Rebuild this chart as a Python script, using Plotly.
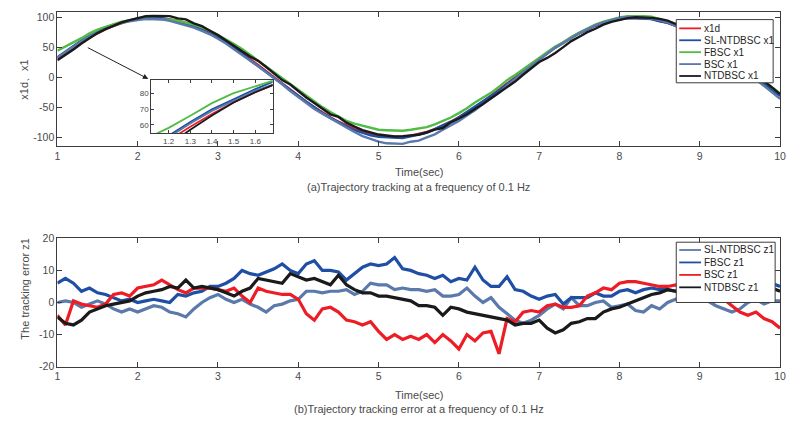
import plotly.graph_objects as go

W, H = 792, 430

# ---------------- data ----------------
t = [round(1 + 0.1 * i, 1) for i in range(91)]

x1d = [30.9, 40.7, 50.0, 58.8, 66.9, 74.3, 80.9, 86.6, 91.4, 95.1,
       97.8, 99.5, 100.0, 99.5, 97.8, 95.1, 91.4, 86.6, 80.9, 74.3,
       66.9, 58.8, 50.0, 40.7, 30.9, 20.8, 10.5, 0.0, -10.5, -20.8,
       -30.9, -40.7, -50.0, -58.8, -66.9, -74.3, -80.9, -86.6, -91.4, -95.1,
       -97.8, -99.5, -100.0, -99.5, -97.8, -95.1, -91.4, -86.6, -80.9, -74.3,
       -66.9, -58.8, -50.0, -40.7, -30.9, -20.8, -10.5, 0.0, 10.5, 20.8,
       30.9, 40.7, 50.0, 58.8, 66.9, 74.3, 80.9, 86.6, 91.4, 95.1,
       97.8, 99.5, 100.0, 99.5, 97.8, 95.1, 91.4, 86.6, 80.9, 74.3,
       66.9, 58.8, 50.0, 40.7, 30.9, 20.8, 10.5, 0.0, -10.5, -20.8,
       -30.9]

sl_x1 = [33.9, 43.7, 53.0, 61.8, 69.9, 76.3, 82.9, 88.6, 92.4, 96.1,
         98.8, 100.5, 100.0, 99.5, 96.8, 94.1, 89.4, 85.6, 79.9, 73.3,
         66.9, 57.8, 49.0, 39.7, 28.9, 18.8, 8.5, -1.0, -11.5, -21.8,
         -31.9, -40.7, -50.0, -59.8, -67.9, -75.3, -81.9, -88.6, -93.4, -97.1,
         -99.8, -100.5, -101.0, -101.5, -98.8, -96.1, -92.4, -86.6, -80.9, -74.3,
         -66.9, -57.8, -50.0, -40.7, -30.9, -21.8, -11.5, -2.0, 8.5, 19.8,
         29.9, 40.7, 50.0, 57.8, 66.9, 74.3, 80.9, 86.6, 92.4, 95.1,
         97.8, 99.5, 99.0, 98.5, 97.8, 94.1, 91.4, 86.6, 80.9, 75.3,
         67.9, 58.8, 50.0, 39.7, 29.9, 19.8, 10.5, 0.0, -10.5, -20.8,
         -30.9]

fb_x1 = [44.9, 51.7, 58.0, 65.8, 73.9, 80.3, 84.9, 89.6, 93.4, 96.1,
         97.8, 98.5, 98.0, 97.5, 96.8, 95.1, 92.4, 88.6, 83.9, 78.3,
         70.9, 63.8, 56.0, 47.7, 37.9, 27.8, 18.5, 8.0, -1.5, -11.8,
         -21.9, -30.7, -40.0, -49.8, -57.9, -65.3, -72.9, -77.6, -81.4, -85.1,
         -87.8, -88.5, -89.0, -89.5, -87.8, -86.1, -83.4, -78.6, -72.9, -67.3,
         -59.9, -51.8, -42.0, -33.7, -25.9, -15.8, -4.5, 4.0, 13.5, 22.8,
         31.9, 42.7, 52.0, 58.8, 67.9, 75.3, 81.9, 88.6, 93.4, 97.1,
         100.8, 102.5, 103.0, 102.5, 101.8, 98.1, 94.4, 89.6, 83.9, 76.3,
         68.9, 60.8, 51.0, 42.7, 32.9, 23.8, 13.5, 4.0, -6.5, -15.8,
         -26.9]

bs_x1 = [32.9, 42.7, 52.0, 60.8, 68.9, 75.3, 81.9, 86.6, 91.4, 94.1,
         96.8, 98.5, 98.0, 97.5, 94.8, 91.1, 87.4, 83.6, 77.9, 72.3,
         64.9, 56.8, 47.0, 37.7, 28.9, 18.8, 8.5, -1.0, -11.5, -22.8,
         -32.9, -43.7, -53.0, -60.8, -68.9, -76.3, -83.9, -91.6, -98.4, -103.1,
         -107.8, -110.5, -111.0, -111.5, -107.8, -106.1, -100.4, -95.6, -87.9, -80.3,
         -72.9, -63.8, -55.0, -44.7, -34.9, -25.8, -13.5, -2.0, 8.5, 19.8,
         29.9, 40.7, 50.0, 57.8, 65.9, 74.3, 80.9, 87.6, 92.4, 96.1,
         99.8, 101.5, 101.0, 100.5, 98.8, 96.1, 92.4, 86.6, 80.9, 74.3,
         65.9, 57.8, 48.0, 38.7, 28.9, 17.8, 7.5, -3.0, -14.5, -24.8,
         -35.9]

nt_x1 = [28.9, 37.7, 47.0, 56.8, 65.9, 74.3, 80.9, 86.6, 92.4, 96.1,
         99.8, 102.5, 103.0, 103.5, 102.8, 99.1, 97.4, 90.6, 85.9, 78.3,
         70.9, 61.8, 52.0, 43.7, 34.9, 27.8, 17.5, 6.0, -4.5, -11.8,
         -22.9, -33.7, -43.0, -52.8, -61.9, -66.3, -75.9, -82.6, -88.4, -92.1,
         -95.8, -97.5, -99.0, -98.5, -97.8, -96.1, -92.4, -87.6, -84.9, -75.3,
         -68.9, -61.8, -53.0, -44.7, -34.9, -25.8, -15.5, -7.0, 4.5, 14.8,
         25.9, 32.7, 41.0, 50.8, 60.9, 68.3, 75.9, 81.6, 88.4, 93.1,
         96.8, 99.5, 101.0, 100.5, 99.8, 98.1, 95.4, 89.6, 82.9, 76.3,
         68.9, 59.8, 51.0, 41.7, 32.9, 22.8, 13.5, 3.0, -6.5, -16.8,
         -27.9]

sl_z1 = [0, 0.5, 0, -1.5, -0.5, 0.5, -0.5, -2, -3, -2,
         -3, -2, -1, -1.5, -3, -3.5, -4.5, -2, 0, 1.5,
         2.5, 1, 0, 1, -0.5, -1.5, -3, -1, -0.5, 0.5,
         1, 3.5, 3.5, 3, 3.5, 3.5, 4, 2.5, 3.5, 6,
         5.5, 5.5, 4, 4.5, 4, 4, 3.5, 4, 2, 2,
         2.5, 4.5, 2, 0, 1.5, -1.5, -3.5, -5.5, -6.5, -5.5,
         -4, -2, -0.5, -2, 1.5, -1, -1, 0, 0.5, -1.5,
         -1, -0.5, -2.5, -3, -1, -2, 0, 1, 0.5, 2,
         2.5, 0.5, -1, -2, -3, -2, 0, 1, -0.5, 0.5,
         0.5]

fb_z1 = [6, 7.5, 6, 3.5, 4.5, 3, 2.5, 1.5, 0.5, 1,
         0, 0.5, 1, 0.5, 0, 2.5, 2, 3, 3.5, 5,
         5, 6, 7.5, 10, 9, 8.5, 9.5, 10.5, 12, 10,
         9, 12, 13, 10, 10, 9.5, 7, 9, 11, 12,
         11.5, 12, 14, 10.5, 10, 9, 8.5, 7.5, 8.5, 6.5,
         7.5, 7, 11, 7, 5, 5, 8, 4, 3.5, 2,
         1, 2, 2.5, -0.5, 1.5, 1.5, 1.5, 3, 2, 2,
         3.5, 4, 3, 4, 4.5, 4, 4, 3.5, 3, 3,
         2.5, 2.5, 1.5, 2.5, 3, 4, 4, 5, 5, 6,
         5]

bs_z1 = [-4, -7, 0.5, -0.5, -1, -1.5, -0.5, 2.5, 3, 2,
         4.5, 5, 5.5, 7, 5.5, 4, 3, 4.5, 4.5, 4.5,
         4, 3.5, 4.5, 2, 0, 4.5, 3.5, 3, 2.5, 2.5,
         1, -3.5, -5.5, -2, -1.5, -3, -5.5, -6, -7, -6,
         -9, -11.5, -10, -11.5, -10.5, -11.5, -10, -12.5, -10, -12,
         -14.5, -10, -12, -9.5, -9, -16, -5, -6, -3, -2.5,
         -3, -1, -0.5, -1.5, -1.5, -1, 2, 3, 4.5, 4,
         6, 6.5, 6.5, 6, 5.5, 5, 5, 5.5, 4, 4,
         3, 2.5, 1.5, 1, -1, -3, -4, -3, -5, -6,
         -8]

nt_z1 = [-4.5, -6.5, -7, -5.5, -3, -2, -1, -0.5, 0, 0.5,
         2, 3, 3.5, 4, 5, 4.5, 7, 4.5, 5, 4.5,
         4, 3, 2, 3.5, 4.5, 7.5, 7, 6.5, 6, 9,
         8, 7, 7.5, 6.5, 5.5, 8.5, 5.5, 4, 3, 3,
         2, 2, 1.5, 1, 0.5, -1, -1, -1.5, -4, -1.5,
         -2, -3, -3.5, -4, -4.5, -5, -5.5, -7, -6.5, -6.5,
         -5.5, -8, -9.5, -8.5, -6.5, -6, -5, -5, -3, -2,
         -1.5, -0.5, 0.5, 1.5, 2.5, 3, 4, 3.5, 2.5, 2,
         2, 1.5, 1, 1.5, 2, 2.5, 3, 3.5, 4, 4.5,
         3.5]

x_ticks = [1, 2, 3, 4, 5, 6, 7, 8, 9, 10]
x_ticktext = ["1", "2", "3", "4", "5", "6", "7", "8", "9", "10"]
y1_ticks = [100, 50, 0, -50, -100]
y1_ticktext = ["100", "50", "0", "-50", "-100"]
y2_ticks = [20, 10, 0, -10, -20]
y2_ticktext = ["20", "10", "0", "-10", "-20"]
inset_xticks = [1.2, 1.3, 1.4, 1.5, 1.6]
inset_xtext = ["1.2", "1.3", "1.4", "1.5", "1.6"]
inset_yticks = [60, 70, 80]
inset_ytext = ["60", "70", "80"]

top_names = ["x1d", "SL-NTDBSC x1", "FBSC x1", "BSC x1", "NTDBSC x1"]
bot_names = ["SL-NTDBSC z1", "FBSC z1", "BSC z1", "NTDBSC z1"]

# ---------------- style ----------------
RED = "#ee1d25"
BLUE = "#1f4fa5"
GREEN = "#52bb45"
GBLUE = "#5b79ab"
BLACK = "#1a1a1a"
AX = "#3c3c3c"
TXT = "#4a4a4a"
FONT = "Liberation Sans, Arial, Helvetica, sans-serif"

top_series = [x1d, sl_x1, fb_x1, bs_x1, nt_x1]
top_colors = [RED, BLUE, GREEN, GBLUE, BLACK]
bot_series = [sl_z1, fb_z1, bs_z1, nt_z1]
bot_colors = [GBLUE, BLUE, RED, BLACK]


def px(x):
    return x / W


def py(y):
    return 1 - y / H


fig = go.Figure()

for name, ys, c in zip(top_names, top_series, top_colors):
    fig.add_trace(go.Scatter(x=t, y=ys, mode="lines", name=name,
                             line=dict(color=c, width=2.4), xaxis="x", yaxis="y",
                             showlegend=False))
for name, ys, c in zip(top_names, top_series, top_colors):
    fig.add_trace(go.Scatter(x=t, y=ys, mode="lines", name=name,
                             line=dict(color=c, width=1.8), xaxis="x3", yaxis="y3",
                             showlegend=False))
for name, ys, c in zip(bot_names, bot_series, bot_colors):
    fig.add_trace(go.Scatter(x=t, y=ys, mode="lines", name=name,
                             line=dict(color=c, width=3.2), xaxis="x2", yaxis="y2",
                             showlegend=False))

axis_common = dict(showline=True, linecolor=AX, linewidth=1, mirror="ticks",
                   ticks="inside", ticklen=5, tickcolor=AX, tickwidth=1,
                   showgrid=False, zeroline=False,
                   tickfont=dict(family=FONT, size=10.5, color=TXT))

fig.update_layout(
    width=W, height=H,
    margin=dict(l=0, r=0, t=0, b=0),
    paper_bgcolor="white", plot_bgcolor="white",
    showlegend=False,
    xaxis=dict(domain=[px(55), px(786)], range=[1, 10], anchor="y",
               tickvals=x_ticks, ticktext=x_ticktext, **axis_common),
    yaxis=dict(domain=[py(144), py(6)], range=[-115, 110], anchor="x",
               tickvals=y1_ticks, ticktext=y1_ticktext, **axis_common),
    xaxis2=dict(domain=[px(55), px(786)], range=[1, 10], anchor="y2",
                tickvals=x_ticks, ticktext=x_ticktext, **axis_common),
    yaxis2=dict(domain=[py(371), py(239)], range=[-20, 20], anchor="x2",
                tickvals=y2_ticks, ticktext=y2_ticktext, **axis_common),
    xaxis3=dict(domain=[px(150), px(272.7)], range=[1.12, 1.68], anchor="y3",
                tickvals=inset_xticks, ticktext=inset_xtext,
                showline=True, linecolor=AX, linewidth=1, mirror="ticks",
                ticks="inside", ticklen=3, tickcolor=AX, showgrid=False, zeroline=False,
                tickfont=dict(family=FONT, size=8, color=TXT)),
    yaxis3=dict(domain=[py(130.7), py(75.7)], range=[54.7, 89], anchor="x3",
                tickvals=inset_yticks, ticktext=inset_ytext,
                showline=True, linecolor=AX, linewidth=1, mirror="ticks",
                ticks="inside", ticklen=3, tickcolor=AX, showgrid=False, zeroline=False,
                tickfont=dict(family=FONT, size=8, color=TXT)),
)

ann = []
shapes = []


def text(x, y, s, size=11, angle=0, xanchor="center", color=TXT):
    ann.append(dict(x=px(x), y=py(y), xref="paper", yref="paper", text=s,
                    showarrow=False, textangle=angle, xanchor=xanchor, yanchor="middle",
                    font=dict(family=FONT, size=size, color=color)))


# axis titles and captions
text(21, 76, "x1d、x1", size=11, angle=-90)
text(22, 291, "The tracking error z1", size=11, angle=-90)
text(420.5, 171, "Time(sec)", size=11)
text(420.5, 186, "(a)Trajectory tracking at a frequency of 0.1 Hz", size=11)
text(420.5, 400, "Time(sec)", size=11)
text(420.5, 415, "(b)Trajectory tracking error at a frequency of 0.1 Hz", size=11)

# arrow pointing to inset
ann.append(dict(x=px(147), y=py(75), xref="paper", yref="paper", text="",
                showarrow=True, ax=-62, ay=-32, arrowhead=2, arrowsize=1.1,
                arrowwidth=1, arrowcolor="#222222"))


# legends (drawn manually to match the compact MATLAB legend box)
def legend(box, names, colors, y0, dy, x_line0, x_line1, x_text):
    x0, y0b, x1, y1b = box
    shapes.append(dict(type="rect", xref="paper", yref="paper",
                       x0=px(x0), x1=px(x1), y0=py(y1b), y1=py(y0b),
                       line=dict(color=AX, width=1), fillcolor="white", layer="above"))
    for i, (n, c) in enumerate(zip(names, colors)):
        yy = y0 + i * dy
        shapes.append(dict(type="line", xref="paper", yref="paper",
                           x0=px(x_line0), x1=px(x_line1), y0=py(yy), y1=py(yy),
                           line=dict(color=c, width=1.8), layer="above"))
        text(x_text, yy, n, size=10, xanchor="left", color="#262626")


legend((681, 14, 779, 79), top_names, top_colors, 23, 12.25, 684, 706, 707)
legend((681, 243, 781, 305), bot_names, bot_colors, 251, 12.8, 684, 706, 707)

fig.update_layout(annotations=ann, shapes=shapes)

fig.write_html("out.html")
